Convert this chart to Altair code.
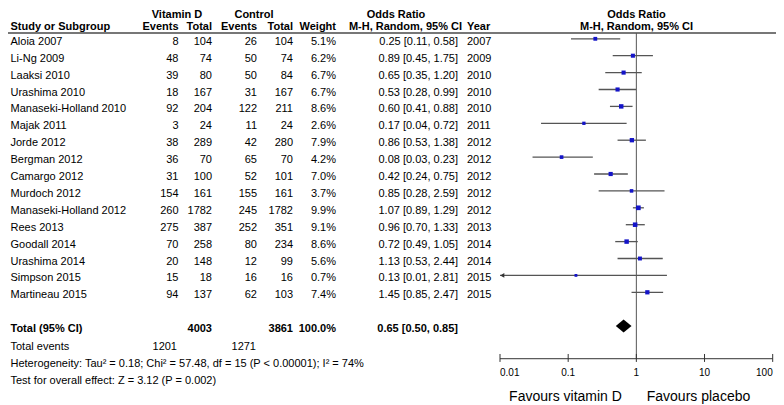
import altair as alt
import pandas as pd

# ---------------- data ----------------
studies = ["Aloia 2007", "Li-Ng 2009", "Laaksi 2010", "Urashima 2010",
           "Manaseki-Holland 2010", "Majak 2011", "Jorde 2012", "Bergman 2012",
           "Camargo 2012", "Murdoch 2012", "Manaseki-Holland 2012", "Rees 2013",
           "Goodall 2014", "Urashima 2014", "Simpson 2015", "Martineau 2015"]
vit_events = [8, 48, 39, 18, 92, 3, 38, 36, 31, 154, 260, 275, 70, 20, 15, 94]
vit_total = [104, 74, 80, 167, 204, 24, 289, 70, 100, 161, 1782, 387, 258, 148, 18, 137]
ctl_events = [26, 50, 50, 31, 122, 11, 42, 65, 52, 155, 245, 252, 80, 12, 16, 62]
ctl_total = [104, 74, 84, 167, 211, 24, 280, 70, 101, 161, 1782, 351, 234, 99, 16, 103]
weights = [5.1, 6.2, 6.7, 6.7, 8.6, 2.6, 7.9, 4.2, 7.0, 3.7, 9.9, 9.1, 8.6, 5.6, 0.7, 7.4]
odds = [0.25, 0.89, 0.65, 0.53, 0.60, 0.17, 0.86, 0.08, 0.42, 0.85, 1.07, 0.96, 0.72, 1.13, 0.13, 1.45]
ci_low = [0.11, 0.45, 0.35, 0.28, 0.41, 0.04, 0.53, 0.03, 0.24, 0.28, 0.89, 0.70, 0.49, 0.53, 0.01, 0.85]
ci_high = [0.58, 1.75, 1.20, 0.99, 0.88, 0.72, 1.38, 0.23, 0.75, 2.59, 1.29, 1.33, 1.05, 2.44, 2.81, 2.47]
years = [2007, 2009, 2010, 2010, 2010, 2011, 2012, 2012, 2012, 2012, 2012, 2013, 2014, 2014, 2015, 2015]

total_vit_n = 4003
total_ctl_n = 3861
total_weight = 100.0
total_or = 0.65
total_low = 0.50
total_high = 0.85
total_vit_events = 1201
total_ctl_events = 1271
heterogeneity = "Heterogeneity: Tau\u00b2 = 0.18; Chi\u00b2 = 57.48, df = 15 (P < 0.00001); I\u00b2 = 74%"
overall_test = "Test for overall effect: Z = 3.12 (P = 0.002)"
tick_values = [0.01, 0.1, 1, 10, 100]
tick_labels = ["0.01", "0.1", "1", "10", "100"]

# ---------------- layout ----------------
FONT = "Liberation Sans"
FS = 11
W, H = 768, 397
ROW0, STEP = 30.8, 16.9
N = len(studies)
TOTAL_ROW = N + 1
xs = alt.Scale(type="log", domain=[0.01, 100], range=[492, 764.7])
ys = alt.Scale(domain=[0, 20], range=[ROW0, ROW0 + 20 * STEP])
LINE = "#555555"

df = pd.DataFrame({
    "study": studies,
    "ve": [str(v) for v in vit_events],
    "vt": [str(v) for v in vit_total],
    "ce": [str(v) for v in ctl_events],
    "ct": [str(v) for v in ctl_total],
    "w": weights,
    "wt": [f"{v:.1f}%" for v in weights],
    "or": odds,
    "lo": ci_low,
    "hi": ci_high,
    "ort": [f"{o:.2f} [{l:.2f}, {h:.2f}]" for o, l, h in zip(odds, ci_low, ci_high)],
    "year": [str(y) for y in years],
    "row": list(range(N)),
})


def Y(field="row"):
    return alt.Y(f"{field}:Q", scale=ys, axis=None)


def text_layer(data, field, x, align="left", bold=False, size=FS, dy=3):
    return alt.Chart(data).mark_text(
        align=align, baseline="middle", font=FONT, fontSize=size,
        fontWeight="bold" if bold else "normal", dy=dy, color="black"
    ).encode(x=alt.value(x), y=Y(), text=f"{field}:N")


def label(txt, row, x, align="left", bold=False, size=FS):
    d = pd.DataFrame({"t": [txt], "row": [row]})
    return text_layer(d, "t", x, align, bold, size)


layers = []

# header
H1, H2 = -1.586, -0.876
RULE_ROW = -0.343
layers += [
    label("Vitamin D", H1, 169, "center", True),
    label("Control", H1, 246, "center", True),
    label("Odds Ratio", H1, 388, "center", True),
    label("Odds Ratio", H1, 628.5, "center", True),
    label("Study or Subgroup", H2, 2.5, "left", True),
    label("Events", H2, 170.5, "right", True),
    label("Total", H2, 204, "right", True),
    label("Events", H2, 249, "right", True),
    label("Total", H2, 285, "right", True),
    label("Weight", H2, 328, "right", True),
    label("M-H, Random, 95% CI", H2, 454, "right", True),
    label("Year", H2, 459, "left", True),
    label("M-H, Random, 95% CI", H2, 628.5, "center", True),
]

# header rule
rule_df = pd.DataFrame({"row": [RULE_ROW]})
layers.append(alt.Chart(rule_df).mark_rule(color="#777777", strokeWidth=2).encode(
    x=alt.value(0), x2=alt.value(W), y=Y()))

# study rows text
layers += [
    text_layer(df, "study", 2.5, "left"),
    text_layer(df, "ve", 170.5, "right"),
    text_layer(df, "vt", 204, "right"),
    text_layer(df, "ce", 249, "right"),
    text_layer(df, "ct", 285, "right"),
    text_layer(df, "wt", 328, "right"),
    text_layer(df, "ort", 450, "right"),
    text_layer(df, "year", 459, "left"),
]

# total rows
layers += [
    label("Total (95% CI)", TOTAL_ROW, 2.5, "left", True),
    label(str(total_vit_n), TOTAL_ROW, 204, "right", True),
    label(str(total_ctl_n), TOTAL_ROW, 285, "right", True),
    label(f"{total_weight:.1f}%", TOTAL_ROW, 328, "right", True),
    label(f"{total_or:.2f} [{total_low:.2f}, {total_high:.2f}]", TOTAL_ROW, 450, "right", True),
    label("Total events", TOTAL_ROW + 1.08, 2.5, "left"),
    label(str(total_vit_events), TOTAL_ROW + 1.08, 169, "right"),
    label(str(total_ctl_events), TOTAL_ROW + 1.08, 248, "right"),
    label(heterogeneity, TOTAL_ROW + 2.06, 2.5, "left"),
    label(overall_test, TOTAL_ROW + 3.06, 2.5, "left"),
]

AXIS_ROW = 18.93

# vertical line of no effect
vdf = pd.DataFrame({"x": [1], "row": [RULE_ROW], "row2": [AXIS_ROW]})
layers.append(alt.Chart(vdf).mark_rule(color=LINE, strokeWidth=1).encode(
    x=alt.X("x:Q", scale=xs, axis=None), y=Y(), y2="row2:Q"))

# CI lines
layers.append(alt.Chart(df).mark_rule(color=LINE, strokeWidth=1.3).encode(
    x=alt.X("lo:Q", scale=xs, axis=None), x2="hi:Q", y=Y()))

# arrow for truncated CI
arrow_df = df[df["lo"] <= 0.01].assign(ax=0.0108)
layers.append(alt.Chart(arrow_df).mark_point(
    shape="triangle-left", filled=True, color="#333333", size=22, opacity=1).encode(
    x=alt.X("ax:Q", scale=xs, axis=None), y=Y()))

# squares
layers.append(alt.Chart(df).mark_square(color="#1414c8", opacity=1).encode(
    x=alt.X("or:Q", scale=xs, axis=None), y=Y(),
    size=alt.Size("w:Q", scale=alt.Scale(domain=[0, 10], range=[7, 22]), legend=None)))

# diamond
half = 0.385
ddf = pd.DataFrame({
    "x": [total_low, total_or, total_high],
    "row": [TOTAL_ROW, TOTAL_ROW - half, TOTAL_ROW],
    "row2": [TOTAL_ROW, TOTAL_ROW + half, TOTAL_ROW],
})
layers.append(alt.Chart(ddf).mark_area(color="black", opacity=1, orient="vertical").encode(
    x=alt.X("x:Q", scale=xs, axis=None), y=Y(), y2="row2:Q"))

# axis line + ticks + labels
adf = pd.DataFrame({"x": [tick_values[0]], "x2": [tick_values[-1]], "row": [AXIS_ROW]})
layers.append(alt.Chart(adf).mark_rule(color="#333333", strokeWidth=1).encode(
    x=alt.X("x:Q", scale=xs, axis=None), x2="x2:Q", y=Y()))
tdf = pd.DataFrame({"x": tick_values, "lab": tick_labels,
                    "row": [AXIS_ROW - 0.28] * 5, "row2": [AXIS_ROW + 0.19] * 5,
                    "lrow": [19.58] * 5, "i": list(range(5))})
layers.append(alt.Chart(tdf).mark_rule(color="#333333", strokeWidth=1).encode(
    x=alt.X("x:Q", scale=xs, axis=None), y=Y(), y2="row2:Q"))
for cond, align in [("datum.i == 0", "left"), ("datum.i > 0 && datum.i < 4", "center"), ("datum.i == 4", "right")]:
    layers.append(alt.Chart(tdf).transform_filter(cond).mark_text(
        align=align, baseline="middle", font=FONT, fontSize=10, dy=3, color="black").encode(
        x=alt.X("x:Q", scale=xs, axis=None), y=Y("lrow"), text="lab:N"))

layers += [
    label("Favours vitamin D", 21.0, 557.5, "center", False, 14),
    label("Favours placebo", 21.0, 690.5, "center", False, 14),
]

chart = alt.layer(*layers).properties(
    width=W, height=H,
    autosize=alt.AutoSizeParams(type="none"),
    padding=0,
).configure_view(stroke=None)

chart.save("out.html", embed_options={"renderer": "svg", "actions": False})
